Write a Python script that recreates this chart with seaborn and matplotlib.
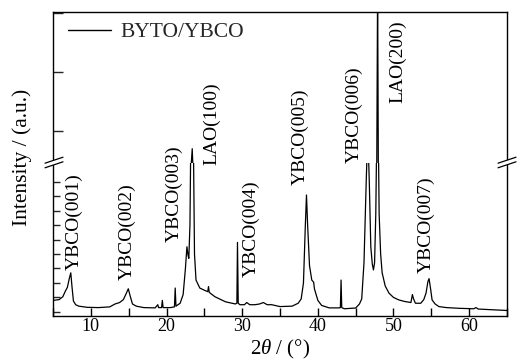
import matplotlib
matplotlib.use("Agg")
import matplotlib.pyplot as plt
from matplotlib.lines import Line2D
from matplotlib.patches import Polygon
from matplotlib.ticker import MultipleLocator, FixedLocator
import numpy as np
import pandas as pd
import seaborn as sns

# ---------------- data ----------------
two_theta = [
    5.0, 5.8, 6.3, 6.6, 6.9, 7.15, 7.35, 7.5, 7.7, 8.0, 8.4, 9.5, 11.0, 12.5,
    13.2, 13.8, 14.3, 14.7, 14.95, 15.2, 15.5, 16.0, 17.0, 18.5, 18.85, 18.95,
    19.35, 19.45, 19.55, 20.5, 21.05, 21.15, 21.25, 21.8, 22.2, 22.5, 22.7,
    22.85, 22.95, 23.1, 23.25, 23.4, 23.55, 23.7, 23.9, 24.4, 25.0, 25.45,
    25.55, 25.65, 26.4, 27.8, 29.1, 29.3, 29.38, 29.48, 29.7, 30.3, 30.6,
    31.0, 31.7, 32.3, 32.8, 33.3, 33.9, 35.0, 36.6, 37.4, 37.8, 38.1, 38.35,
    38.5, 38.65, 38.9, 39.2, 39.45, 39.55, 40.0, 40.5, 41.5, 42.8, 42.98,
    43.07, 43.16, 43.5, 45.0, 45.5, 45.8, 46.1, 46.4, 46.6, 46.8, 47.0, 47.2,
    47.35, 47.5, 47.66, 47.78, 47.9, 48.0, 48.1, 48.3, 48.5, 48.9, 49.4,
    50.0, 50.7, 51.5, 52.3, 52.5, 52.65, 52.9, 53.6, 54.0, 54.3, 54.55, 54.7,
    54.9, 55.1, 55.5, 56.0, 57.0, 58.7, 60.6, 60.9, 61.2, 63.0, 65.0,
]
intensity = [
    0.80, 0.85, 1.05, 1.4, 1.7, 2.3, 2.7, 1.8, 0.75, 0.5, 0.4, 0.32, 0.3, 0.35,
    0.55, 0.65, 0.85, 1.3, 1.6, 1.1, 0.55, 0.4, 0.3, 0.28, 0.5, 0.3,
    0.3, 0.8, 0.3, 0.3, 0.35, 1.65, 0.4, 0.6, 1.2, 3.0, 4.5,
    3.9, 3.7, 6.0, 14.0, 17.0, 12.0, 4.0, 2.2, 1.65, 1.5, 1.4,
    1.75, 1.35, 1.05, 0.7, 0.55, 0.6, 4.8, 0.6, 0.5, 0.5, 0.65,
    0.5, 0.5, 0.55, 0.65, 0.5, 0.5, 0.37, 0.4, 0.6, 0.9, 2.0, 6.0,
    8.07, 6.0, 3.2, 2.2, 2.05, 1.6, 0.8, 0.45, 0.28, 0.28, 0.3,
    2.2, 0.3, 0.22, 0.27, 0.55, 0.9, 3.4, 9.1, 12.5, 9.0, 4.5, 3.3,
    2.9, 3.4, 6.8, 12.0, 45.0, 12.0, 6.8, 4.0, 2.7, 1.8, 1.3,
    1.0, 0.83, 0.72, 0.65, 1.2, 0.9, 0.6, 0.6, 0.85, 1.3, 2.1, 2.3,
    1.6, 0.83, 0.55, 0.37, 0.3, 0.25, 0.22, 0.3, 0.2, 0.15, 0.1,
]
series_name = "BYTO/YBCO"

peak_labels = ["YBCO(001)", "YBCO(002)", "YBCO(003)", "LAO(100)", "YBCO(004)",
               "YBCO(005)", "YBCO(006)", "LAO(200)", "YBCO(007)"]
x_ticks = [10, 20, 30, 40, 50, 60]

# ---------------- layout / style ----------------
label_x = [7.85, 14.8, 20.95, 25.97, 31.13, 37.68, 44.76, 50.58, 54.35]
label_y = [2.9, 2.2, 4.83, 10.14, 2.41, 8.76, 10.28, 14.41, 2.69]

df = pd.DataFrame({"two_theta": two_theta, "intensity": intensity})

sns.set_theme(style="ticks")
plt.rcParams["font.family"] = ["Liberation Serif", "DejaVu Serif"]
plt.rcParams["mathtext.fontset"] = "custom"
plt.rcParams["mathtext.rm"] = "Liberation Serif"
plt.rcParams["mathtext.it"] = "Liberation Serif:italic"

W, H = 517, 362
fig = plt.figure(figsize=(W / 100, H / 100), dpi=100)
fig.patch.set_facecolor("white")

left, right, top, split, bottom = 53, 507, 12, 163, 316
def fx(px): return px / W
def fy(py): return 1 - py / H

ax_low = fig.add_axes([fx(left), fy(bottom), fx(right - left), fy(split) - fy(bottom)])
ax_up = fig.add_axes([fx(left), fy(split), fx(right - left), fy(top) - fy(split)], sharex=ax_low)
ax_low.set_facecolor("white")
ax_up.patch.set_visible(False)
for ax in (ax_low, ax_up):
    for s in ax.spines.values():
        s.set_linewidth(1.0)
        s.set_color("black")

sns.lineplot(data=df, x="two_theta", y="intensity", ax=ax_low, color="black",
             linewidth=0.9, estimator=None, legend=False)
sns.lineplot(data=df, x="two_theta", y="intensity", ax=ax_up, color="black",
             linewidth=0.9, estimator=None, label=series_name)

ax_low.set_xlim(5, 65)
ax_low.set_ylim(-0.28, 10.28)
ax_up.set_ylim(14.58, 40.17)

ax_low.spines["top"].set_visible(False)
ax_up.spines["bottom"].set_visible(False)

ax_low.xaxis.set_major_locator(FixedLocator(x_ticks))
ax_low.xaxis.set_minor_locator(MultipleLocator(5))
ax_low.yaxis.set_major_locator(FixedLocator(list(range(0, 10))))
ax_up.yaxis.set_major_locator(FixedLocator([20, 30, 40]))

ax_low.tick_params(axis="x", which="both", direction="in", length=5.5, width=1.0,
                   labelsize=13, pad=1.5, colors="black", top=False)
ax_low.tick_params(axis="y", which="both", direction="in", length=5, width=1.0,
                   labelleft=False, right=False)
ax_up.tick_params(axis="x", which="both", bottom=False, top=False, labelbottom=False)
ax_up.tick_params(axis="y", which="both", direction="in", length=7.5, width=1.0,
                   labelleft=False, right=False)

ax_low.set_xlabel(r"2$\theta$ / (°)", fontsize=15, labelpad=2, color="black")
ax_low.set_ylabel("")
ax_up.set_xlabel("")
ax_up.set_ylabel("")
fig.text(fx(22), fy(157.5), "Intensity / (a.u.)", rotation=90, ha="center",
         va="center", fontsize=15.5, color="black")

for txt, xx, yy in zip(peak_labels, label_x, label_y):
    ax_low.text(xx, yy, txt, rotation=90, ha="center", va="bottom",
                fontsize=14, color="black", clip_on=False, zorder=10)

leg = ax_up.legend(loc="upper left", bbox_to_anchor=(15 / 454, 1 - 10 / 151),
                   frameon=False, fontsize=15.5, handlelength=2.0,
                   handletextpad=0.45, borderpad=0, borderaxespad=0)
for h in leg.get_lines():
    h.set_linewidth(1.0)

# break marks on both spines
for cx in (54, 507):
    cy = 162.5
    dx, dy, gap = 9, 3, 2.3
    a = [(fx(cx - dx), fy(cy - gap + dy)), (fx(cx + dx), fy(cy - gap - dy))]
    b = [(fx(cx - dx), fy(cy + gap + dy)), (fx(cx + dx), fy(cy + gap - dy))]
    poly = Polygon([a[0], a[1], b[1], b[0]], closed=True, transform=fig.transFigure,
                   facecolor="white", edgecolor="none", zorder=5)
    fig.add_artist(poly)
    for seg in (a, b):
        fig.add_artist(Line2D([seg[0][0], seg[1][0]], [seg[0][1], seg[1][1]],
                              transform=fig.transFigure, color="black",
                              linewidth=0.9, zorder=6))

fig.savefig("out.png", dpi=100, facecolor="white")
